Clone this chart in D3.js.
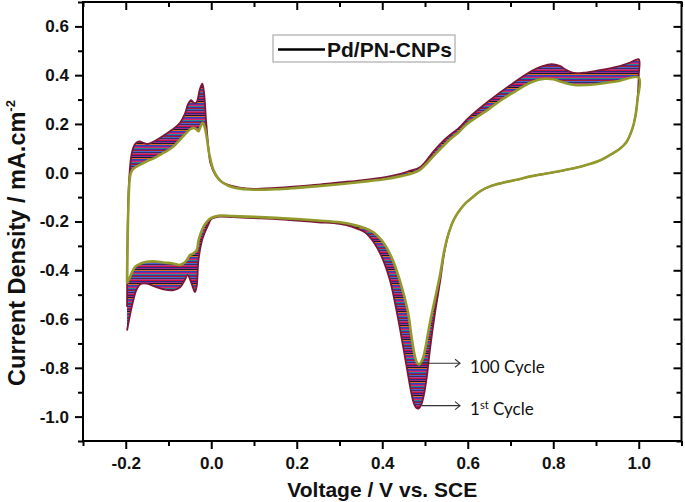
<!DOCTYPE html>
<html><head><meta charset="utf-8">
<script src="https://cdn.jsdelivr.net/npm/d3@7"></script>
<style>body{margin:0;background:#fff}svg{display:block}</style>
</head><body><svg id="c" width="685" height="502"></svg>
<script>
// ---- data ----
const xMajor = [-0.2, 0.0, 0.2, 0.4, 0.6, 0.8, 1.0];
const xMinor = [-0.3, -0.1, 0.1, 0.3, 0.5, 0.7, 0.9, 1.1];
const yMajor = [0.6, 0.4, 0.2, 0.0, -0.2, -0.4, -0.6, -0.8, -1.0];
const yMinor = [0.7, 0.5, 0.3, 0.1, -0.1, -0.3, -0.5, -0.7, -0.9, -1.1];

// first cycle: anodic sweep (-0.2 -> 1.0) then cathodic sweep (1.0 -> -0.2)
const cycle1 = [
  [-0.197,-0.55],[-0.196,-0.3],[-0.194,-0.1],[-0.191,0.0],[-0.187,0.07],[-0.182,0.105],[-0.176,0.122],
  [-0.168,0.128],[-0.158,0.122],[-0.148,0.118],[-0.13,0.132],[-0.112,0.152],[-0.09,0.178],[-0.073,0.205],
  [-0.062,0.24],[-0.054,0.282],[-0.047,0.298],[-0.04,0.285],[-0.034,0.29],[-0.027,0.34],[-0.021,0.365],
  [-0.017,0.33],[-0.012,0.21],[-0.007,0.11],[-0.002,0.04],[0.01,-0.01],[0.025,-0.038],[0.05,-0.055],
  [0.08,-0.064],[0.1,-0.066],[0.15,-0.062],[0.2,-0.056],[0.25,-0.049],[0.3,-0.04],[0.35,-0.031],
  [0.4,-0.02],[0.43,-0.01],[0.46,0.005],[0.49,0.025],[0.52,0.088],[0.545,0.135],[0.56,0.157],
  [0.58,0.185],[0.6,0.222],[0.65,0.295],[0.7,0.36],[0.75,0.418],[0.775,0.437],[0.796,0.445],
  [0.815,0.438],[0.83,0.422],[0.845,0.41],[0.87,0.41],[0.9,0.418],[0.95,0.435],[0.98,0.452],[1.0,0.465],
  [1.0,0.40],[0.997,0.30],[0.992,0.23],[0.985,0.18],[0.971,0.125],[0.955,0.097],[0.94,0.08],
  [0.909,0.05],[0.87,0.028],[0.83,0.012],[0.792,-0.001],[0.75,-0.014],[0.714,-0.029],[0.68,-0.042],
  [0.652,-0.056],[0.63,-0.075],[0.613,-0.098],[0.595,-0.125],[0.582,-0.152],[0.568,-0.19],
  [0.555,-0.25],[0.545,-0.33],[0.535,-0.45],[0.523,-0.58],[0.512,-0.72],[0.504,-0.84],[0.497,-0.915],
  [0.491,-0.952],[0.485,-0.967],[0.479,-0.963],[0.473,-0.94],[0.466,-0.885],[0.458,-0.805],
  [0.449,-0.715],[0.435,-0.58],[0.418,-0.441],
  [0.40,-0.35],[0.38,-0.285],[0.36,-0.245],[0.33,-0.222],[0.3,-0.21],[0.25,-0.203],[0.2,-0.196],
  [0.15,-0.19],[0.1,-0.186],[0.05,-0.182],[0.02,-0.18],[0.0,-0.19],[-0.007,-0.214],[-0.015,-0.245],
  [-0.022,-0.28],[-0.03,-0.36],[-0.034,-0.465],[-0.038,-0.489],[-0.046,-0.455],[-0.055,-0.42],
  [-0.062,-0.44],[-0.073,-0.47],[-0.09,-0.482],[-0.112,-0.478],[-0.13,-0.468],[-0.151,-0.455],
  [-0.165,-0.456],[-0.175,-0.48],[-0.186,-0.551],[-0.193,-0.61],[-0.197,-0.647]
];

// 100th cycle
const cycle100 = [
  [-0.197,-0.45],[-0.196,-0.3],[-0.194,-0.15],[-0.191,-0.03],[-0.188,0.0],[-0.183,0.015],[-0.174,0.026],
  [-0.16,0.038],[-0.151,0.047],[-0.13,0.063],[-0.112,0.081],[-0.09,0.105],[-0.073,0.136],[-0.06,0.16],
  [-0.05,0.177],[-0.042,0.184],[-0.036,0.18],[-0.03,0.17],[-0.025,0.19],[-0.02,0.205],[-0.015,0.185],
  [-0.011,0.15],[-0.005,0.08],[0.005,0.012],[0.015,-0.02],[0.028,-0.042],[0.05,-0.06],[0.08,-0.068],
  [0.1,-0.07],[0.15,-0.068],[0.2,-0.062],[0.25,-0.055],[0.3,-0.047],[0.35,-0.038],[0.4,-0.028],
  [0.441,-0.015],[0.47,-0.002],[0.488,0.012],[0.505,0.04],[0.519,0.067],[0.54,0.105],[0.558,0.136],
  [0.58,0.168],[0.597,0.198],[0.65,0.262],[0.675,0.294],[0.7,0.322],[0.75,0.372],[0.78,0.385],
  [0.8,0.383],[0.82,0.372],[0.85,0.36],[0.9,0.363],[0.95,0.375],[1.0,0.39],
  [0.997,0.30],[0.992,0.23],[0.985,0.18],[0.971,0.125],[0.955,0.097],[0.94,0.08],
  [0.909,0.05],[0.87,0.028],[0.83,0.012],[0.792,-0.001],[0.75,-0.014],[0.714,-0.029],[0.68,-0.042],
  [0.652,-0.056],[0.63,-0.075],[0.613,-0.098],[0.595,-0.125],[0.582,-0.152],[0.568,-0.19],
  [0.555,-0.25],[0.545,-0.32],[0.535,-0.42],[0.523,-0.52],[0.511,-0.62],[0.503,-0.7],[0.497,-0.75],
  [0.491,-0.778],[0.486,-0.786],[0.481,-0.778],[0.476,-0.75],[0.469,-0.68],[0.46,-0.57],
  [0.441,-0.441],[0.42,-0.34],
  [0.4,-0.28],[0.38,-0.245],[0.36,-0.228],[0.33,-0.212],[0.3,-0.203],[0.25,-0.196],[0.2,-0.19],
  [0.15,-0.185],[0.1,-0.181],[0.05,-0.178],[0.02,-0.176],[0.0,-0.185],[-0.01,-0.2],[-0.018,-0.221],
  [-0.025,-0.25],[-0.03,-0.28],[-0.034,-0.317],[-0.042,-0.331],[-0.05,-0.338],[-0.057,-0.358],
  [-0.065,-0.372],[-0.073,-0.378],[-0.09,-0.372],[-0.112,-0.368],[-0.13,-0.364],[-0.151,-0.365],
  [-0.165,-0.372],[-0.178,-0.386],[-0.19,-0.427],[-0.197,-0.454]
];

const legendLabel = "Pd/PN-CNPs";
const xTitle = "Voltage / V vs. SCE";
const yTitle = "Current Density / mA.cm";
const yTitleSup = "-2";
// annotation arrows (in data units)
const annLabels = ["100", "1"];
const annSups = ["", "st"];
const annVStart = [0.492, 0.492];
const annVEnd = [0.582, 0.582];
const annI = [-0.781, -0.955];

// ---- drawing ----
const svg = d3.select("#c");
const x = d3.scaleLinear().domain([-0.3, 1.1]).range([83, 681.5]);
const y = d3.scaleLinear().domain([-1.1, 0.7]).range([441, 2]);
const FONT = "'Liberation Sans', Arial, sans-serif";

const stripeColors = ["#c8143c","#2a2a80","#a02a90","#1a1a22","#e06a2a","#2848c0","#7a2a9a",
                      "#d82a6a","#2a8a8a","#4a2aa0","#a81c28","#4a68d0","#30306a","#b83a8a"];
const sh = 1;
const defs = svg.append("defs");
const pat = defs.append("pattern").attr("id","stripes").attr("patternUnits","userSpaceOnUse")
  .attr("width", 8).attr("height", stripeColors.length * sh);
stripeColors.forEach((c, k) => pat.append("rect").attr("x",0).attr("y",k*sh).attr("width",8).attr("height",sh+0.05).attr("fill",c));

const line = d3.line().x(d => x(d[0])).y(d => y(d[1])).curve(d3.curveCatmullRom.alpha(0.5));

const g = svg.append("g");
// band between first and 100th cycle
g.append("path")
  .attr("d", line(cycle1) + "Z" + line(cycle100) + "Z")
  .attr("fill", "url(#stripes)").attr("fill-rule", "evenodd").attr("stroke", "none");
g.append("path").attr("d", line(cycle1)).attr("fill","none").attr("stroke","#7a1838").attr("stroke-width",1.8);
g.append("path").attr("d", line(cycle100)).attr("fill","none").attr("stroke","#929a2c").attr("stroke-width",2.6);

// axes
const fmt = d => d.toFixed(1);
function styleAxis(sel) {
  sel.select(".domain").remove();
  sel.selectAll(".tick line").attr("stroke","#000").attr("stroke-width",2);
  sel.selectAll("text").attr("font-family",FONT).attr("font-weight","bold").attr("font-size","17px").attr("fill","#111");
}
svg.append("g").attr("transform","translate(0,441)").call(d3.axisBottom(x).tickValues(xMajor).tickSize(8).tickPadding(8).tickFormat(fmt)).call(styleAxis);
svg.append("g").attr("transform","translate(0,441)").call(d3.axisBottom(x).tickValues(xMinor).tickSize(5).tickFormat("")).call(styleAxis);
svg.append("g").attr("transform","translate(83,0)").call(d3.axisLeft(y).tickValues(yMajor).tickSize(8).tickPadding(6).tickFormat(fmt)).call(styleAxis);
svg.append("g").attr("transform","translate(83,0)").call(d3.axisLeft(y).tickValues(yMinor).tickSize(5).tickFormat("")).call(styleAxis);
// mirrored inward ticks on right and top
svg.append("g").attr("transform","translate(681.5,0)").call(d3.axisRight(y).tickValues(yMajor).tickSize(-8).tickFormat("")).call(styleAxis);
svg.append("g").attr("transform","translate(681.5,0)").call(d3.axisRight(y).tickValues(yMinor).tickSize(-5).tickFormat("")).call(styleAxis);
svg.append("g").attr("transform","translate(0,2)").call(d3.axisTop(x).tickValues(xMajor).tickSize(-8).tickFormat("")).call(styleAxis);
svg.append("g").attr("transform","translate(0,2)").call(d3.axisTop(x).tickValues(xMinor).tickSize(-5).tickFormat("")).call(styleAxis);

// frame
svg.append("rect").attr("x",83).attr("y",2).attr("width",681.5-83).attr("height",439)
  .attr("fill","none").attr("stroke","#000").attr("stroke-width",2);

// axis titles
svg.append("text").attr("x", (83+681.5)/2).attr("y", 497).attr("text-anchor","middle")
  .attr("font-family",FONT).attr("font-weight","bold").attr("font-size","21px").attr("fill","#111").text(xTitle);
const yt = svg.append("text").attr("transform","translate(25,243) rotate(-90)").attr("text-anchor","middle")
  .attr("font-family",FONT).attr("font-weight","bold").attr("font-size","23.5px").attr("fill","#111");
yt.append("tspan").text(yTitle);
yt.append("tspan").attr("dy",-10).attr("font-size","13px").text(yTitleSup);

// legend
const lg = svg.append("g");
lg.append("rect").attr("x",273).attr("y",35).attr("width",182).attr("height",27)
  .attr("fill","#fff").attr("stroke","#9a9a9a").attr("stroke-width",1);
lg.append("line").attr("x1",278).attr("x2",325).attr("y1",49.5).attr("y2",49.5).attr("stroke","#000").attr("stroke-width",2.5);
lg.append("text").attr("x",327).attr("y",57).attr("font-family",FONT).attr("font-weight","bold")
  .attr("font-size","21px").attr("fill","#111").text(legendLabel);

// annotations
annLabels.forEach((lab, k) => {
  const x0 = x(annVStart[k]), x1 = x(annVEnd[k]), yy = y(annI[k]);
  svg.append("line").attr("x1",x0).attr("x2",x1).attr("y1",yy).attr("y2",yy).attr("stroke","#333").attr("stroke-width",1.1);
  svg.append("path").attr("d",`M${x1-5},${yy-4}L${x1},${yy}L${x1-5},${yy+4}`).attr("fill","none").attr("stroke","#333").attr("stroke-width",1.1);
  const t = svg.append("text").attr("x", x1 + 10).attr("y", yy + 9.5)
    .attr("font-family","Lato, 'Open Sans', sans-serif").attr("font-size","17px").attr("fill","#111");
  t.append("tspan").text(lab);
  if (annSups[k]) {
    t.append("tspan").attr("dy",-6).attr("font-size","11px").text(annSups[k]);
    t.append("tspan").attr("dy",6).text(" Cycle");
  } else {
    t.append("tspan").text(" Cycle");
  }
});
</script></body></html>
